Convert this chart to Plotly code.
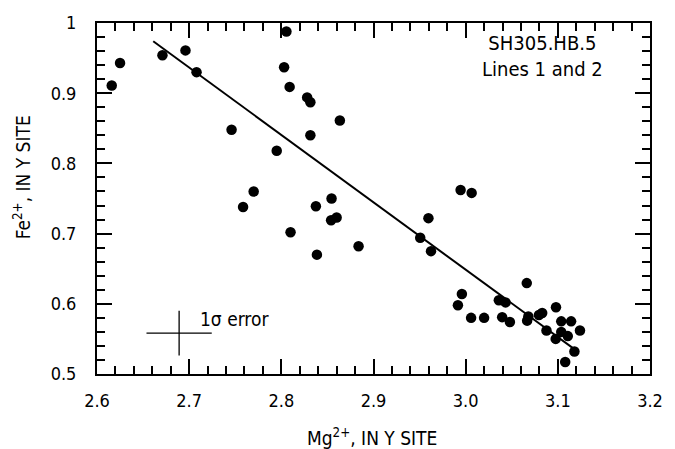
import plotly.graph_objects as go

# Data
mg = [2.616, 2.625, 2.671, 2.696, 2.708, 2.746, 2.795, 2.8055, 2.803, 2.809,
      2.828, 2.8315, 2.8635, 2.8315, 2.770, 2.7585, 2.810, 2.8545, 2.8375, 2.860,
      2.854, 2.8386, 2.8838, 2.9945, 3.0065, 2.9596, 2.9507, 2.9624,
      3.0663, 2.9959, 2.9916, 3.0059, 3.020, 3.036, 3.0433, 3.0396, 3.048,
      3.068, 3.0667, 3.0795, 3.083, 3.098, 3.1037, 3.1144, 3.124, 3.0877,
      3.1037, 3.1108, 3.0977, 3.118, 3.108]
fe = [0.911, 0.943, 0.954, 0.961, 0.930, 0.848, 0.818, 0.988, 0.937, 0.909,
      0.894, 0.887, 0.861, 0.840, 0.760, 0.738, 0.702, 0.750, 0.739, 0.723,
      0.719, 0.670, 0.682, 0.762, 0.758, 0.722, 0.694, 0.675,
      0.6295, 0.614, 0.598, 0.580, 0.580, 0.605, 0.602, 0.581, 0.574,
      0.582, 0.576, 0.584, 0.587, 0.595, 0.575, 0.575, 0.562, 0.562,
      0.560, 0.554, 0.550, 0.532, 0.517]

# Regression line (slope/intercept and drawn x-range)
fit_slope = -0.960
fit_intercept = 3.5286
fit_x = [2.661, 3.1205]
fit_y = [fit_intercept + fit_slope * x for x in fit_x]

# 1-sigma error cross
err_center_x = [2.6891]
err_center_y = [0.5583]
err_sx = 0.0354
err_sy = 0.0318

x_range = [2.6, 3.2]
y_range = [0.5, 1.0]
x_ticks = [2.6, 2.7, 2.8, 2.9, 3.0, 3.1, 3.2]
x_ticklabels = ["2.6", "2.7", "2.8", "2.9", "3.0", "3.1", "3.2"]
y_ticks = [0.5, 0.6, 0.7, 0.8, 0.9, 1.0]
y_ticklabels = ["0.5", "0.6", "0.7", "0.8", "0.9", "1"]
minor_step = 0.02

FONT = "DejaVu Sans Condensed, Liberation Sans Narrow, Roboto, sans-serif"

fig = go.Figure()
fig.add_trace(go.Scatter(x=fit_x, y=fit_y, mode="lines",
                         line=dict(color="black", width=2), hoverinfo="skip"))
fig.add_trace(go.Scatter(x=mg, y=fe, mode="markers",
                         marker=dict(color="black", size=10.5, line=dict(width=0))))
fig.add_trace(go.Scatter(x=err_center_x, y=err_center_y, mode="markers",
                         marker=dict(size=0.1, color="rgba(0,0,0,0)"),
                         error_x=dict(type="constant", value=err_sx, width=0, thickness=1.3, color="black"),
                         error_y=dict(type="constant", value=err_sy, width=0, thickness=1.3, color="black")))

axis_common = dict(
    showgrid=False, zeroline=False, showline=True, linecolor="black", linewidth=2,
    mirror="ticks", ticks="inside", ticklen=15, tickwidth=2, tickcolor="black",
    tickfont=dict(family=FONT, size=18, color="black"),
)

fig.update_xaxes(range=x_range, tickmode="array", tickvals=x_ticks, ticktext=x_ticklabels,
                 minor=dict(dtick=minor_step, tick0=x_range[0], ticks="inside", ticklen=8,
                            tickwidth=2, tickcolor="black", showgrid=False),
                 ticklabelstandoff=9, **axis_common)
fig.update_yaxes(range=y_range, tickmode="array", tickvals=y_ticks, ticktext=y_ticklabels,
                 minor=dict(dtick=minor_step, tick0=y_range[0], ticks="inside", ticklen=8,
                            tickwidth=2, tickcolor="black", showgrid=False),
                 ticklabelstandoff=15, **axis_common)

fig.add_annotation(x=2.7094, y=0.5777, xref="x", yref="y", text="1σ error",
                   showarrow=False, xanchor="left", yanchor="middle",
                   font=dict(family=FONT, size=19, color="black"))
fig.add_annotation(x=3.083, y=0.953, xref="x", yref="y",
                   text="SH305.HB.5<br>Lines 1 and 2", showarrow=False,
                   xanchor="center", yanchor="middle", align="center",
                   font=dict(family=FONT, size=20, color="black"))
fig.add_annotation(x=0.497, y=-0.18, xref="paper", yref="paper",
                   text="Mg<sup>2+</sup>, IN Y SITE", showarrow=False,
                   xanchor="center", yanchor="middle",
                   font=dict(family=FONT, size=19, color="black"))
fig.add_annotation(x=-0.134, y=0.56, xref="paper", yref="paper",
                   text="Fe<sup>2+</sup>, IN Y SITE", showarrow=False, textangle=-90,
                   xanchor="center", yanchor="middle",
                   font=dict(family=FONT, size=19, color="black"))

fig.update_layout(width=675, height=449, showlegend=False,
                  plot_bgcolor="white", paper_bgcolor="white",
                  margin=dict(l=96.5, r=16.5, t=20, b=75))

fig.write_html("out.html")
